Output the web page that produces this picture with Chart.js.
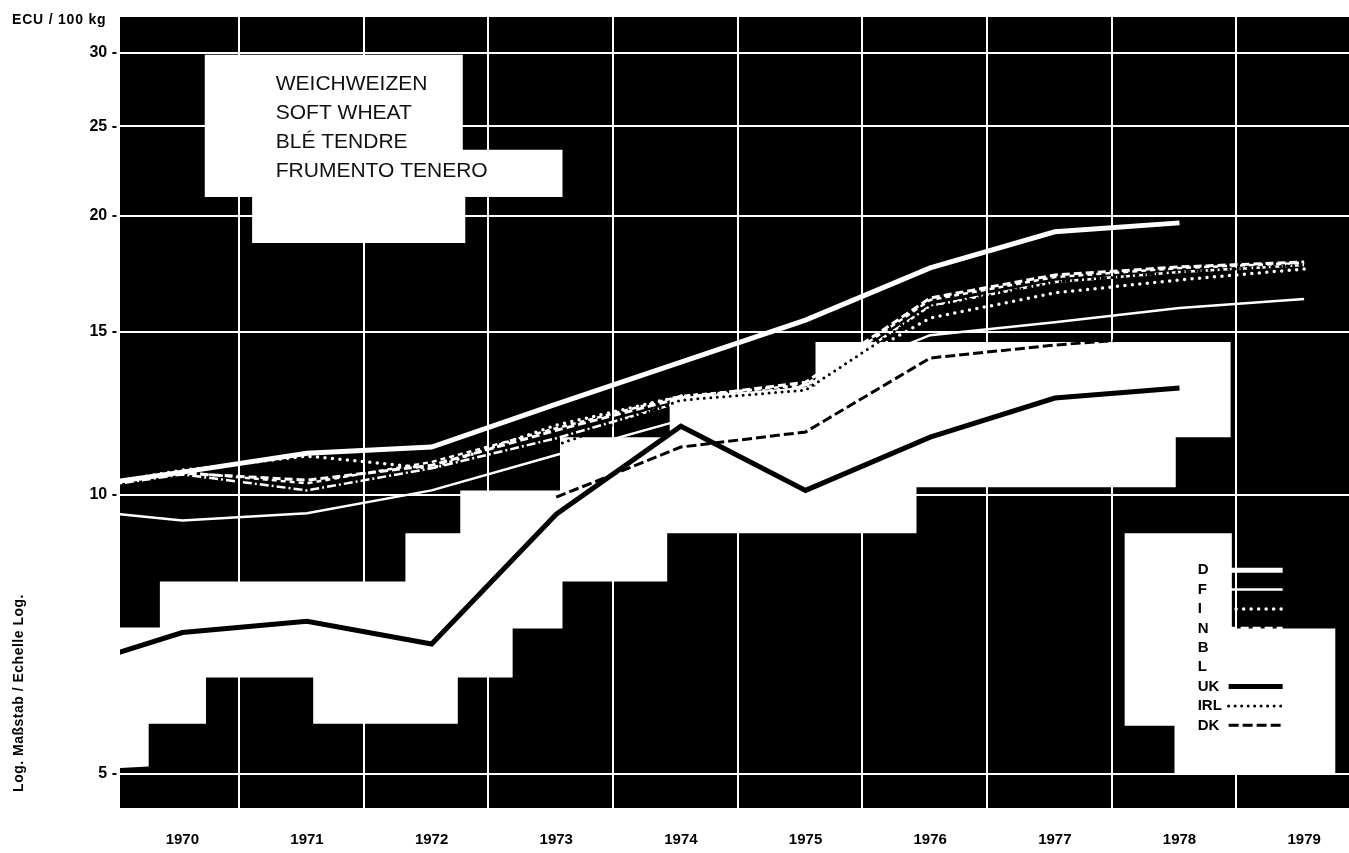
<!DOCTYPE html>
<html>
<head>
<meta charset="utf-8">
<script src="https://cdn.jsdelivr.net/npm/chart.js@4.4.0/dist/chart.umd.min.js"></script>
<style>
  html, body { margin: 0; padding: 0; background: #fff; }
  #wrap { width: 1349px; height: 853px; }
</style>
</head>
<body>
<div id="wrap"><canvas id="wheat-chart" width="1349" height="853"></canvas></div>
<script>
// soft wheat prices, ECU / 100 kg, log scale
var years = [1969, 1970, 1971, 1972, 1973, 1974, 1975, 1976, 1977, 1978, 1979];
var yearLabels = [1970, 1971, 1972, 1973, 1974, 1975, 1976, 1977, 1978, 1979];
var valueTicks = [5, 10, 15, 20, 25, 30];

var priceD   = [10.12, 10.58, 11.09, 11.26, 12.53, 13.91, 15.44, 17.58, 19.23, 19.66, null];
var priceF   = [9.68, 9.38, 9.55, 10.11, 11.04, 12.04, 13.14, 14.87, 15.36, 15.91, 16.27];
var priceI   = [10.08, 10.63, 11.01, 10.68, 11.89, 12.78, 13.04, 15.52, 16.52, 17.06, 17.53];
var priceN   = [10.15, 10.55, 10.37, 10.76, 11.74, 12.72, 13.23, 16.31, 17.27, 17.62, 17.84];
var priceB   = [10.06, 10.52, 10.11, 10.68, 11.51, 12.59, 12.97, 15.99, 16.97, 17.40, 17.70];
var priceL   = [10.07, 10.58, 10.29, 10.85, 11.80, 12.78, 13.14, 16.23, 17.18, 17.57, 17.80];
var priceUK  = [6.44, 7.10, 7.30, 6.90, 9.53, 11.86, 10.11, 11.54, 12.72, 13.04, null];
var priceIRL = [null, null, null, null, 11.31, 12.65, 12.97, 15.91, 16.97, 17.40, 17.70];
var priceDK  = [null, null, null, null, 9.94, 11.26, 11.69, 14.05, 14.51, 14.85, null];

var titleLines = ["WEICHWEIZEN", "SOFT WHEAT", "BLÉ TENDRE", "FRUMENTO TENERO"];
var legendCodes = ["D", "F", "I", "N", "B", "L", "UK", "IRL", "DK"];

// the printed year rules sit a little before mid-year
var gridYears = yearLabels.slice(0, 9).map(function (y) { return y + 0.455; });

// white label patches of the original print, in (year, value) units
var titlePatch = [[1970.18, 29.87], [1972.25, 29.87], [1972.25, 23.58], [1973.05, 23.58], [1973.05, 20.97],
  [1972.27, 20.97], [1972.27, 18.70], [1970.56, 18.70], [1970.56, 20.97], [1970.18, 20.97]];
var middlePatch = [[1969.82, 8.06], [1971.79, 8.06], [1971.79, 9.09], [1972.23, 9.09], [1972.23, 10.11],
  [1973.03, 10.11], [1973.03, 11.54], [1973.91, 11.54], [1973.91, 12.72], [1975.08, 13.1], [1975.08, 14.62],
  [1978.41, 14.62], [1978.41, 11.54], [1977.97, 11.54], [1977.97, 10.19], [1975.89, 10.19], [1975.89, 9.09],
  [1973.89, 9.09], [1973.89, 8.06], [1973.05, 8.06], [1973.05, 7.17], [1972.65, 7.17], [1972.65, 6.35],
  [1972.21, 6.35], [1972.21, 5.66], [1971.05, 5.66], [1971.05, 6.35], [1970.19, 6.35], [1970.19, 5.66],
  [1969.73, 5.66], [1969.73, 5.09], [1969.4, 5.06], [1969.4, 7.19], [1969.82, 7.19]];
var legendPatch = [[1977.56, 9.09], [1978.42, 9.09], [1978.42, 7.17], [1979.25, 7.17], [1979.25, 5.0],
  [1977.96, 5.0], [1977.96, 5.63], [1977.56, 5.63]];

var FONT = '"Liberation Sans", Arial, sans-serif';

function line(label, values, color, width, dash, order) {
  return {
    label: label,
    data: years.map(function (yr, i) { return { x: yr, y: values[i] }; }),
    borderColor: color,
    borderWidth: width,
    borderDash: dash,
    borderCapStyle: dash.length && dash[0] === 0 ? "round" : "butt",
    pointRadius: 0,
    tension: 0,
    fill: false,
    order: order,
  };
}

function patch(chart, shape) {
  var ctx = chart.ctx, xs = chart.scales.x, ys = chart.scales.y;
  ctx.beginPath();
  shape.forEach(function (p, i) {
    var px = xs.getPixelForValue(p[0]), py = ys.getPixelForValue(p[1]);
    if (i === 0) ctx.moveTo(px, py); else ctx.lineTo(px, py);
  });
  ctx.closePath();
  ctx.fill();
}

var patchesDone = false;

var printLook = {
  id: "printLook",
  beforeDraw: function (chart) {
    var ctx = chart.ctx, a = chart.chartArea;
    ctx.save();
    ctx.fillStyle = "#fff";
    ctx.fillRect(0, 0, chart.width, chart.height);
    ctx.fillStyle = "#000";
    ctx.fillRect(a.left, a.top, a.right - a.left, a.bottom - a.top);
    ctx.restore();
  },
  beforeDatasetsDraw: function () {
    patchesDone = false;
  },
  beforeDatasetDraw: function (chart, args) {
    // white patches go over the white lines, under the black ones
    if (patchesDone || chart.data.datasets[args.index].order !== 1) return;
    patchesDone = true;
    var ctx = chart.ctx, a = chart.chartArea;
    ctx.save();
    ctx.beginPath();
    ctx.rect(a.left, a.top, a.right - a.left, a.bottom - a.top);
    ctx.clip();
    ctx.fillStyle = "#fff";
    patch(chart, titlePatch);
    patch(chart, middlePatch);
    patch(chart, legendPatch);
    ctx.restore();
  },
  afterDatasetsDraw: function (chart) {
    var ctx = chart.ctx, xs = chart.scales.x, ys = chart.scales.y;
    ctx.save();

    // title block
    var tx = xs.getPixelForValue(titlePatch[0][0]) + 71;
    var ty = ys.getPixelForValue(titlePatch[0][1]) + 30;
    ctx.fillStyle = "#111";
    ctx.font = "21px " + FONT;
    ctx.textBaseline = "middle";
    titleLines.forEach(function (t, i) {
      ctx.fillText(t, tx, ty + i * 29);
    });

    // legend
    var lx = xs.getPixelForValue(legendPatch[0][0]) + 73;
    var ly = ys.getPixelForValue(legendPatch[0][1]) + 37;
    ctx.font = "bold 15px " + FONT;
    legendCodes.forEach(function (code, i) {
      var y = ly + i * 19.4;
      ctx.fillStyle = "#000";
      ctx.fillText(code, lx, y);
      var ds = chart.data.datasets.find(function (d) { return d.label === code; });
      ctx.save();
      ctx.strokeStyle = ds.borderColor;
      ctx.lineWidth = ds.borderWidth;
      ctx.setLineDash(ds.borderDash);
      ctx.lineCap = ds.borderCapStyle;
      ctx.beginPath();
      ctx.moveTo(lx + 31, y);
      ctx.lineTo(lx + 85, y);
      ctx.stroke();
      ctx.restore();
    });
    ctx.restore();
  },
  afterDraw: function (chart) {
    var ctx = chart.ctx;
    ctx.save();
    ctx.fillStyle = "#000";
    ctx.font = "bold 14px " + FONT;
    ctx.textBaseline = "middle";
    ctx.letterSpacing = "0.8px";
    ctx.fillText("ECU / 100 kg", 12, 20);
    ctx.translate(19, 693);
    ctx.rotate(-Math.PI / 2);
    ctx.textAlign = "center";
    ctx.font = "bold 14px " + FONT;
    ctx.letterSpacing = "0.5px";
    ctx.fillText("Log. Maßstab / Echelle Log.", 0, 0);
    ctx.restore();
  },
};

var ctx = document.getElementById("wheat-chart").getContext("2d");

var chart = new Chart(ctx, {
  type: "line",
  data: {
    datasets: [
      line("D", priceD, "#fff", 5, [], 2),
      line("F", priceF, "#fff", 2.5, [], 2),
      line("I", priceI, "#fff", 3.5, [0, 7.5], 2),
      line("N", priceN, "#fff", 3, [8, 4], 2),
      line("B", priceB, "#fff", 2.5, [9, 3, 2, 3], 2),
      line("L", priceL, "#fff", 2.5, [5, 4], 2),
      line("UK", priceUK, "#000", 5, [], 1),
      line("IRL", priceIRL, "#000", 3, [0, 6.5], 1),
      line("DK", priceDK, "#000", 3, [10, 4], 1),
    ],
  },
  options: {
    responsive: false,
    animation: false,
    layout: {
      padding: { top: 17, right: 0, bottom: 0, left: 0 },
    },
    plugins: {
      legend: { display: false },
      tooltip: { enabled: false },
    },
    scales: {
      x: {
        type: "linear",
        min: 1969.5,
        max: 1979.36,
        afterBuildTicks: function (scale) {
          scale.ticks = yearLabels.map(function (v) { return { value: v }; });
        },
        afterFit: function (scale) {
          scale.height = 45;
        },
        grid: { display: false },
        border: { display: false },
        ticks: {
          color: "#000",
          padding: 15,
          maxRotation: 0,
          autoSkip: false,
          font: { family: FONT, size: 15, weight: "bold" },
          callback: function (v) { return String(v); },
        },
      },
      xg: {
        type: "linear",
        position: "bottom",
        min: 1969.5,
        max: 1979.36,
        afterBuildTicks: function (scale) {
          scale.ticks = gridYears.map(function (v) { return { value: v }; });
        },
        afterFit: function (scale) {
          scale.height = 0;
        },
        grid: {
          color: "#fff",
          lineWidth: 2,
          drawTicks: false,
        },
        border: { display: false },
        ticks: { display: false },
      },
      y: {
        type: "logarithmic",
        min: 4.59,
        max: 32.8,
        afterBuildTicks: function (scale) {
          scale.ticks = valueTicks.map(function (v) { return { value: v }; });
        },
        afterFit: function (scale) {
          scale.width = 120;
        },
        grid: {
          color: "#fff",
          lineWidth: 2,
          drawTicks: false,
        },
        border: { display: false },
        ticks: {
          color: "#000",
          padding: 3,
          font: { family: FONT, size: 16, weight: "bold" },
          callback: function (v) { return v + " -"; },
        },
      },
    },
  },
  plugins: [printLook],
});
</script>
</body>
</html>
